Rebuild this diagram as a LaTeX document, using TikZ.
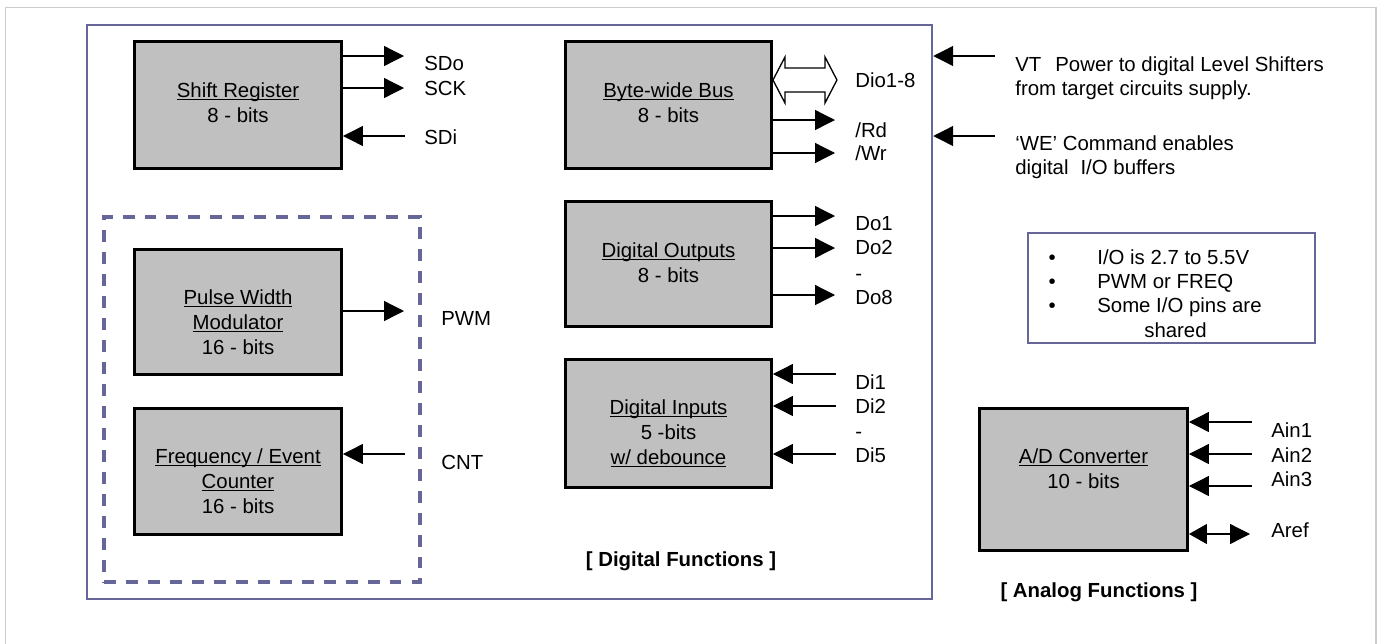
\documentclass[tikz,border=0pt]{standalone}
\usepackage{fontspec}
\setmainfont{Liberation Sans}
\usetikzlibrary{arrows.meta}

\definecolor{framecol}{RGB}{102,102,153}
\definecolor{boxgrey}{RGB}{192,192,192}
\definecolor{pagegrey}{RGB}{204,204,204}

% underline at a fixed depth, through the descenders
\newsavebox\ulsave
\newcommand\ulbox[1]{\sbox\ulsave{#1}\rlap{\rule[-1.75pt]{\wd\ulsave}{0.75pt}}\usebox\ulsave}

\tikzset{
    block/.style={draw=black, line width=1.7pt, fill=boxgrey, inner sep=0pt,
        minimum width=4.14cm, minimum height=2.54cm},
    % multi-line text: the node is placed by the baseline of its last line
    blocktext/.style={anchor=base, align=center, inner sep=0pt,
        font=\fontsize{11.6}{14.2}\selectfont},
    siglabel/.style={anchor=base west, inner sep=0pt, font=\fontsize{11.6}{13.8}\selectfont},
    grouplabel/.style={anchor=base, inner sep=0pt, font=\fontsize{11.6}{13.8}\selectfont\bfseries},
    digframe/.style={draw=framecol, line width=1.5pt, inner sep=0pt},
    sig/.style={line width=0.75pt, -{Triangle[length=0.4cm,width=0.4cm]}},
}

\begin{document}
\begin{tikzpicture}[x=0.02cm, y=-0.02cm]
    \useasboundingbox (0,0) rectangle (1380,643);
    \draw[pagegrey, line width=0.85pt] (5.5,7.5) rectangle (1376,660);

    % digital side
    \node[digframe, minimum width=16.9cm, minimum height=11.48cm] (digital) at (509.5,312) {};
    \node[digframe, line width=1.8pt, dash pattern=on 6.8pt off 5.7pt,
        minimum width=6.32cm, minimum height=7.3cm] (timers) at (262,399.5) {};

    \node[block] (shift) at (238,105) {};
    \node[blocktext] (shift-t) at (238,122) {\ulbox{Shift Register}\\8 - bits};
    \node[block, minimum height=2.5cm] (pwm) at (238,312) {};
    \node[blocktext] (pwm-t) at (238,354) {\ulbox{Pulse Width}\\\ulbox{Modulator}\\16 - bits};
    \node[block, minimum height=2.52cm] (freq) at (238,471.5) {};
    \node[blocktext] (freq-t) at (238,513) {\ulbox{Frequency / Event}\\\ulbox{Counter}\\16 - bits};

    \node[block, minimum width=4.12cm] (bus) at (668.5,105) {};
    \node[blocktext] (bus-t) at (668.5,122) {\ulbox{Byte-wide Bus}\\8 - bits};
    \node[block, minimum width=4.12cm, minimum height=2.5cm] (dout) at (668.5,264) {};
    \node[blocktext] (dout-t) at (668.5,282) {\ulbox{Digital Outputs}\\8 - bits};
    \node[block, minimum width=4.12cm, minimum height=2.56cm] (din) at (668.5,423.5) {};
    \node[blocktext] (din-t) at (668.5,464) {\ulbox{Digital Inputs}\\5 -bits\\\ulbox{w/ debounce}};

    % serial port
    \coordinate (sdo) at (404,56);
    \coordinate (sck) at (404,88);
    \coordinate (sdi) at (405,136);
    \draw[sig] (shift.east |- sdo) -- (sdo);
    \draw[sig] (shift.east |- sck) -- (sck);
    \draw[sig] (sdi) -- (shift.east |- sdi);
    \node[siglabel] (sdo-l) at (424,70) {SDo};
    \node[siglabel] (sck-l) at (424,95) {SCK};
    \node[siglabel] (sdi-l) at (424,144) {SDi};

    \coordinate (pwmout) at (404,311);
    \draw[sig] (pwm.east |- pwmout) -- (pwmout);
    \node[siglabel] (pwm-l) at (441,325) {PWM};
    \coordinate (cntin) at (405,454);
    \draw[sig] (cntin) -- (freq.east |- cntin);
    \node[siglabel] (cnt-l) at (441,469) {CNT};

    % byte-wide bus
    \coordinate (dio) at (772,80);
    \draw[line width=0.75pt, fill=white] (bus.east |- dio) -- ++(12,-23) -- ++(0,11) -- ++(40,0)
        -- ++(0,-11) -- ++(12,23) -- ++(-12,23) -- ++(0,-11) -- ++(-40,0) -- ++(0,11) -- cycle;
    \node[siglabel] (dio-l) at (855,87) {Dio1-8};
    \coordinate (rd) at (835,120);
    \coordinate (wr) at (835,153);
    \draw[sig] (bus.east |- rd) -- (rd);
    \draw[sig] (bus.east |- wr) -- (wr);
    \node[siglabel] (rd-l) at (855,137) {/Rd};
    \node[siglabel] (wr-l) at (855,160) {/Wr};

    \foreach \n/\ay/\ly in {1/216/230, 2/248/254, 8/295/304} {
        \coordinate (do\n) at (835,\ay);
        \draw[sig] (dout.east |- do\n) -- (do\n);
        \node[siglabel] (do\n-l) at (855,\ly) {Do\n};
    }
    \node[siglabel] (do-dots) at (855,280) {-};

    \foreach \n/\ay/\ly in {1/374/389, 2/406/413, 5/454/462} {
        \coordinate (di\n) at (836,\ay);
        \draw[sig] (di\n) -- (din.east |- di\n);
        \node[siglabel] (di\n-l) at (855,\ly) {Di\n};
    }
    \node[siglabel] (di-dots) at (855,438) {-};

    \node[grouplabel] (digital-l) at (681,566) {[ Digital Functions ]};

    % supply and enable
    \coordinate (vt) at (995,56);
    \coordinate (we) at (995,136);
    \draw[sig] (vt) -- (digital.east |- vt);
    \draw[sig] (we) -- (digital.east |- we);
    \node[siglabel, align=left, font=\fontsize{11.6}{13.6}\selectfont] (vt-l) at (1015,95)
        {VT\hspace{0.28cm}Power to digital Level Shifters\\from target circuits supply.};
    \node[siglabel, align=left, font=\fontsize{11.6}{13.6}\selectfont] (we-l) at (1015,174)
        {‘WE’ Command enables\\digital\hspace{0.24cm}I/O buffers};

    % notes
    \node[digframe, minimum width=5.74cm, minimum height=2.2cm] (notes) at (1171.5,288) {};
    \node[siglabel, align=left] (notes-t) at (1097,337)
        {\llap{\textbullet\hspace{0.83cm}}I/O is 2.7 to 5.5V\\
         \llap{\textbullet\hspace{0.83cm}}PWM or FREQ\\
         \llap{\textbullet\hspace{0.83cm}}Some I/O pins are\\
         \hspace*{0.94cm}shared};

    % analog side
    \node[block, minimum width=4.16cm, minimum height=2.84cm] (adc) at (1083.5,479.5) {};
    \node[blocktext] (adc-t) at (1083.5,488) {\ulbox{A/D Converter}\\10 - bits};
    \foreach \n/\ay/\ly in {1/422/437, 2/454/462, 3/486/486} {
        \coordinate (ain\n) at (1252,\ay);
        \draw[sig] (ain\n) -- (adc.east |- ain\n);
        \node[siglabel] (ain\n-l) at (1271,\ly) {Ain\n};
    }
    \coordinate (aref) at (1250,534);
    \draw[line width=0.75pt, {Triangle[length=0.36cm,width=0.4cm]}-{Triangle[length=0.4cm,width=0.4cm]}]
        (adc.east |- aref) -- (aref);
    \node[siglabel] (aref-l) at (1271,537) {Aref};

    \node[grouplabel] (analog-l) at (1099,597) {[ Analog Functions ]};
\end{tikzpicture}
\end{document}
